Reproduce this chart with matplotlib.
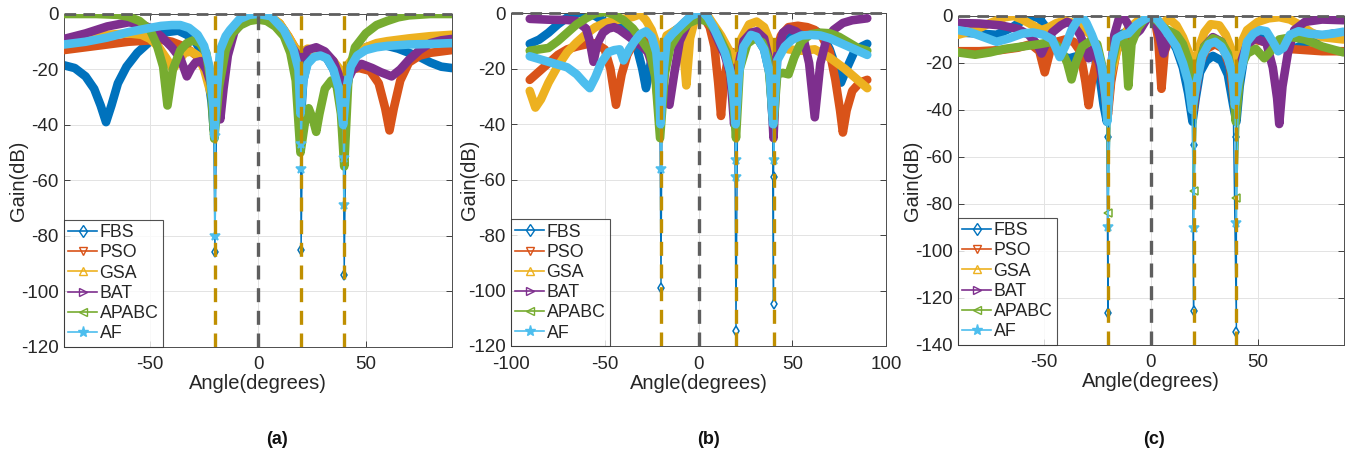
import matplotlib
matplotlib.use("Agg")
import matplotlib.pyplot as plt
from matplotlib.lines import Line2D

plt.rcParams['font.family'] = ['Liberation Sans', 'DejaVu Sans']
plt.rcParams['axes.unicode_minus'] = False

# ---------------- data ----------------
NAMES = ["FBS", "PSO", "GSA", "BAT", "APABC", "AF"]
COLORS = ["#0072BD", "#D95319", "#EDB120", "#7E2F8E", "#77AC30", "#4DBEEE"]
MARKERS = ["d", "v", "^", ">", "<", "*"]
NULL_ANG = [-20, 20, 40]
PANEL_LABELS = ["(a)", "(b)", "(c)"]

# Panel (a): (angle, gain dB)
A_FBS = [(-90,-18.5),(-85,-19.5),(-80,-22.5),(-76,-27),(-73,-33),(-70.5,-39),(-68,-33),(-65,-25),(-61,-19),(-56,-14),(-51,-10.5),(-47,-8),(-42,-6.5),(-37,-6),(-33,-7.5),(-29,-10),(-26,-14),(-23.5,-21),(-21.5,-32),(-20.5,-42),(-19,-26),(-17,-15),(-14,-8),(-10,-3.5),(-5,-0.8),(0,0),(5,-0.8),(10,-3.5),(14,-8.5),(17,-15),(18.8,-25),(19.7,-40),(21,-24),(23,-17),(26,-14.5),(29,-14.5),(32,-16),(35,-20),(37.5,-26),(39.5,-40),(41,-28),(43,-19),(46,-14),(50,-12),(55,-11),(60,-11.5),(65,-12.5),(70,-14),(75,-15.5),(80,-17.5),(85,-19),(90,-19.5)]
A_PSO = [(-90,-13),(-80,-12),(-70,-11),(-60,-10),(-50,-9.5),(-45,-9.3),(-40,-10),(-35,-11.5),(-31,-13.5),(-27,-16),(-24,-21),(-22,-26),(-20.5,-32),(-19,-24),(-17,-15),(-14,-8),(-10,-3.5),(-5,-0.8),(0,0),(5,-0.8),(10,-3.5),(14,-8),(17,-12),(20,-14.5),(23,-13),(27,-13.5),(31,-15),(35,-17.5),(38,-20.5),(40,-22),(43,-20),(47,-19.5),(52,-20.5),(56,-25),(59,-34),(61,-42),(63,-34),(66,-24),(70,-17.5),(75,-15),(80,-14),(90,-13)]
A_GSA = [(-90,-9.5),(-80,-8.5),(-70,-7.5),(-60,-7),(-54,-7.5),(-50,-9),(-46,-12),(-42.5,-16),(-39.5,-20),(-37,-17),(-34,-14),(-31,-13.5),(-28,-15),(-25,-20),(-22.5,-27),(-20.5,-32),(-19,-24),(-17,-15),(-14,-8),(-10,-3.5),(-5,-0.6),(0,0.3),(5,-0.6),(10,-3.3),(14,-8),(17,-12),(20,-14),(23,-12.5),(27,-13),(31,-14.5),(35,-17),(38,-20),(40,-22),(42,-18),(45,-15),(50,-12),(55,-10.5),(60,-9.8),(70,-8.8),(80,-8),(90,-7.5)]
A_BAT = [(-90,-9),(-80,-7),(-70,-4.5),(-60,-3),(-55,-3.5),(-50,-5),(-45,-8),(-40,-12),(-36,-16),(-33,-22.5),(-31,-19.5),(-29,-17.5),(-26.5,-17),(-24,-20),(-21.5,-26),(-19,-32),(-17.5,-38),(-16,-27),(-14,-15),(-11,-6.5),(-7,-2.5),(-3,-0.5),(0,0),(4,-0.7),(8,-3),(12,-7),(15,-11),(18,-14.5),(20,-16),(23,-13),(27,-12),(31,-13.5),(35,-17),(38,-23),(40,-36),(41.5,-24),(44,-20),(48,-18),(53,-19.5),(57,-21),(62,-22.5),(66,-20),(70,-16.5),(75,-13),(80,-10.5),(85,-9.5),(90,-9)]
A_APABC = [(-90,0),(-75,0),(-65,-0.3),(-60,-1),(-55,-2.5),(-50,-5.8),(-47,-11),(-44,-19),(-42,-33),(-39.5,-20),(-36,-13),(-33,-10.5),(-30,-9.5),(-27,-10.5),(-24,-14),(-22,-24),(-20.3,-45),(-18,-26),(-15,-13),(-12,-7),(-8,-4),(-4,-2.5),(0,-2),(4,-2.5),(8,-4.5),(12,-8),(15,-14),(17.5,-24),(19.7,-50),(22,-38),(23.5,-34),(25.5,-38),(27,-42.5),(28.5,-36),(31,-27),(34,-24),(36.5,-26),(38.5,-36),(40,-55),(42,-22),(45,-12),(50,-7),(55,-4),(60,-2.5),(65,-1.2),(70,-0.5),(80,0),(90,0)]
A_AF = [(-90,-11),(-80,-10),(-70,-8.5),(-60,-6.5),(-50,-5),(-45,-4.3),(-40,-4),(-36,-4),(-32,-5),(-28,-7.5),(-25,-11.5),(-22.5,-19),(-20.7,-34),(-20.2,-44),(-19.3,-30),(-17.6,-13),(-15,-8),(-13,-5.8),(-8.5,-1.8),(-4,-0.3),(0,0),(6,-0.8),(12,-5.8),(16.5,-13),(18.8,-20),(19.7,-36),(21,-24),(23,-18),(26,-15.5),(29,-15),(32,-16),(35,-20),(37.5,-27),(39.5,-40),(41,-27),(43,-19),(46,-15),(50,-13),(55,-12),(60,-11.5),(70,-11),(80,-10.8),(90,-10.5)]
A_DEEP = {"FBS": [[-86], [-85], [-94]], "AF": [[-44, -80], [-47, -56], [-52, -69]]}

# Panel (b)
B_FBS = [(-90,-11),(-85,-9.5),(-80,-7),(-75,-4),(-70,-1.5),(-65,0),(-60,0.5),(-55,-1),(-50,-3),(-45,-4.5),(-40,-5.5),(-36,-7),(-33,-12),(-30,-20),(-28,-27),(-26,-20),(-24,-12),(-22,-16),(-20.6,-35),(-19.4,-30),(-17.5,-12),(-14,-7),(-11,-5.5),(-8,-4),(-4,-1),(0,0.3),(2,0.5),(5,-1.5),(8,-5),(11,-9.5),(14,-14),(17,-21),(19.3,-35),(21,-22),(24,-12),(28,-8),(31,-8.5),(35,-13),(38,-22),(39.5,-38),(41,-18),(44,-10),(48,-7),(53,-6),(58,-5.5),(63,-6.5),(67,-9),(70,-13),(73,-19),(76,-25),(79,-20),(83,-14),(87,-12),(90,-11)]
B_PSO = [(-90,-24),(-85,-21),(-80,-18),(-75,-15),(-70,-13),(-65,-12),(-60,-11.2),(-55,-10.8),(-50,-13),(-47,-20),(-44,-33),(-41,-22),(-38,-15),(-34,-10),(-30,-8),(-26,-12),(-23,-22),(-20.5,-40),(-18,-20),(-15,-10),(-11,-6),(-7,-3),(-3,-1),(0,-0.5),(3,-1.5),(6,-5),(8.5,-12),(10.5,-25),(12,-37),(13.5,-25),(16,-15),(18,-14),(20,-20),(22,-14),(26,-9),(30,-8.5),(34,-10),(37,-15),(39,-22),(40,-30),(41,-15),(44,-8),(48,-5),(53,-4.5),(58,-5),(62,-6),(66,-8.5),(70,-14),(73,-24),(75.5,-35),(77,-43),(79,-35),(82,-28),(86,-25),(90,-24)]
B_GSA = [(-90,-28),(-87,-34),(-84,-31),(-80,-25),(-75,-19),(-70,-14),(-65,-10.5),(-60,-7.5),(-55,-5),(-50,-3.5),(-45,-2.6),(-40,-2),(-35,-1.3),(-31,-0.3),(-28,-2.5),(-25,-6),(-22.5,-11),(-20.5,-22),(-19,-13),(-17,-8),(-12,-6),(-8.5,-10),(-6.5,-26),(-4.5,-9),(-1.5,-1),(2,1),(5,-1),(8,-4),(12,-8),(16,-13),(20,-17),(23,-9),(27,-4),(31,-3),(35,-5),(38,-10),(40,-14),(43,-12),(48,-13),(55,-13.5),(62,-13),(70,-16),(78,-20),(84,-23.5),(90,-27)]
B_BAT = [(-90,-2),(-80,-2.3),(-70,-2.4),(-65,-2.8),(-60,-5.5),(-58,-10),(-56,-17.5),(-54,-11),(-51,-7),(-48,-5.5),(-45,-5),(-42,-6),(-38,-8),(-34,-10),(-30,-12),(-27,-14),(-24,-20),(-21,-26),(-18,-29),(-15.5,-33),(-13,-22),(-10,-10),(-6,-4),(-3,-1),(0,0.8),(3,0),(6,-3),(10,-9),(14,-15),(17,-22),(19,-40),(21,-20),(24,-10),(28,-7),(31,-6.5),(35,-9),(38,-18),(40,-45),(42,-15),(45,-7),(48,-5.5),(52,-6.5),(56,-9),(59,-18),(62,-37.5),(65,-18),(68,-10),(72,-6),(77,-3.5),(82,-2.5),(90,-1.8)]
B_APABC = [(-90,-13.5),(-85,-13),(-80,-12.5),(-75,-10),(-70,-7),(-65,-4),(-60,-1.8),(-55,0),(-50,0.5),(-45,-0.5),(-40,-2.5),(-35,-5.5),(-30,-10),(-26,-14),(-23,-23),(-20.5,-45),(-18,-22),(-15,-12),(-10,-6.5),(-5,-3.5),(0,-2),(5,-3),(10,-7),(15,-14),(18,-25),(20,-45),(22,-20),(26,-11),(30,-9),(34,-10.5),(37,-16),(40,-40),(42,-22),(45,-21.5),(48,-22),(51,-16),(55,-10),(60,-7.5),(65,-7),(70,-7.2),(75,-8.5),(80,-10.5),(85,-12.5),(90,-13.5)]
B_AF = [(-90,-15.5),(-85,-16.5),(-80,-17.5),(-75,-18.5),(-70,-19.5),(-65,-22),(-61,-25),(-58,-27),(-55,-23),(-52,-18),(-48,-14),(-45,-13.3),(-42,-13),(-40,-17),(-37,-13),(-34,-10),(-31,-7.5),(-28,-6.5),(-25,-8.5),(-22.5,-14),(-21,-25),(-20.3,-40),(-18.5,-20),(-17,-10),(-14,-7.5),(-11,-5.5),(-8,-3.5),(-4,-1),(0,0.2),(2,0.6),(5,-1.5),(8,-5),(11,-9.5),(14,-14),(17,-21),(19,-32),(19.8,-40),(21.5,-22),(24,-12),(28,-7.8),(31,-8.5),(35,-13),(38,-22),(39.8,-40),(42,-17),(46,-12),(50,-9.5),(55,-8),(60,-7.8),(65,-8),(70,-9),(75,-10.5),(80,-12),(85,-13.5),(90,-15)]
B_DEEP = {"FBS": [[-99], [-114.5], [-59, -105]], "AF": [[-56], [-53, -59], [-53]]}

# Panel (c)
C_FBS = [(-90,-7),(-80,-7.5),(-72,-8),(-65,-5),(-60,-2),(-56,0),(-52,-1),(-48,-6),(-45,-12),(-42,-17),(-38,-18),(-34,-17),(-30,-15),(-27,-15),(-24,-25),(-22,-38),(-20.5,-45),(-19,-30),(-17,-14),(-14,-8),(-10,-6),(-6,-3),(-3,-1),(0,0),(3,-1.5),(6,-5),(9,-9),(12,-14),(15,-22),(17.5,-33),(19.5,-45),(21,-35),(23,-24),(26,-19),(29,-17),(33,-19),(36,-25),(38.5,-38),(40,-45),(41.5,-30),(44,-15),(48,-9),(54,-9),(58,-12),(62,-13),(68,-13.5),(74,-11),(80,-8.5),(85,-7.5),(90,-7.5)]
C_PSO = [(-90,-15),(-80,-15),(-70,-14.5),(-62,-13.5),(-56,-12),(-52,-15),(-49.5,-24),(-47,-15),(-44,-11),(-40,-10),(-36,-11),(-33,-15),(-30.5,-28),(-29,-38),(-27.5,-28),(-25,-18),(-22.5,-22),(-21,-35),(-20,-42),(-18.5,-28),(-16,-15),(-13,-10),(-9,-7),(-5,-3),(-2,-0.5),(0,0),(2,-2),(3.5,-10),(5,-31),(6.5,-15),(9,-9),(12,-8),(15,-10),(17.5,-18),(19.5,-35),(21,-32),(23,-20),(26,-14),(30,-12),(34,-14),(37,-22),(39.5,-40),(41.5,-25),(44,-13),(48,-10),(53,-11),(58,-13),(64,-14),(72,-14.5),(80,-15),(90,-15)]
C_GSA = [(-90,-8),(-82,-6),(-75,-3),(-68,-0.5),(-64,0),(-60,-1.5),(-55,-4),(-51,-6),(-48,-5),(-44,-3),(-40,-2),(-36,-3),(-32,-5),(-28,-8),(-25,-14),(-22,-25),(-20.3,-40),(-18.5,-25),(-15,-12),(-11,-6),(-6,-2),(-2,0),(0,0.5),(2,-0.5),(4,-3),(5.5,-5),(7,-2),(9,-1.5),(12,-4),(15,-9),(18,-16),(20,-35),(22,-15),(25,-7),(28,-3.5),(32,-4),(35,-8),(38,-15),(40,-30),(42,-12),(45,-6),(50,-2.5),(55,-1),(60,-0.5),(65,-1.5),(70,-4),(75,-7),(80,-9),(90,-10)]
C_BAT = [(-90,-3),(-80,-3.2),(-70,-4),(-62,-5.5),(-57,-8),(-53,-12),(-51,-16),(-49,-12),(-46,-7),(-42,-4),(-39,-2.5),(-36,-4),(-33,-8),(-30.5,-14),(-29,-18),(-27,-14),(-24,-20),(-22,-30),(-20.5,-40),(-19,-28),(-17,-8),(-15,-1.5),(-13,0),(-11,-3),(-8,-8.5),(-5,-6),(-2,-1.5),(0,0),(2,-2),(4,-8),(6,-16),(8,-10),(11,-8),(14,-14),(16.5,-22),(18.5,-30),(20,-40),(22,-25),(25,-13),(29,-9),(33,-11),(36,-18),(38.5,-28),(40,-40),(42,-20),(45,-12),(49,-9.5),(54,-11.5),(57,-22),(59,-35),(60,-46),(61.5,-30),(64,-16),(67,-6),(72,-2.5),(80,-1.5),(90,-1.8)]
C_APABC = [(-90,-15.5),(-82,-16.5),(-75,-15.5),(-68,-14),(-60,-13),(-52,-12),(-46,-11),(-42,-14),(-39,-20),(-37,-27),(-35,-20),(-32,-13),(-28,-10.5),(-25,-12),(-22.5,-22),(-20.5,-40),(-18.5,-22),(-15.5,-10),(-13,-8),(-11.5,-15),(-10.5,-30),(-9,-12),(-6,-5),(-3,-1.5),(0,0),(3,-2),(6,-5),(9,-6.5),(12,-8),(15,-12),(18,-20),(19.7,-40),(22,-22),(25,-13),(29,-9.5),(33,-11),(36,-16),(38.5,-28),(39.7,-45),(42,-22),(45,-16),(49,-14),(53,-18),(56,-15),(60,-10),(66,-9),(72,-10),(80,-13),(90,-15.5)]
C_AF = [(-90,-6),(-84,-7),(-78,-9),(-72,-11),(-66,-9.5),(-60,-7.5),(-55,-7),(-50,-8),(-46,-10),(-42.5,-17.5),(-40,-13),(-37,-6),(-34,-1.5),(-32,-0.3),(-30,-3),(-27.5,-8),(-25,-14),(-23,-21),(-21,-35),(-20.3,-45),(-18.5,-20),(-16,-9.5),(-13,-8),(-10.5,-7.5),(-7,-4),(-4,-2),(0,0),(3,-1.5),(6,-5),(9,-9),(12,-13),(15,-20),(17.5,-28),(19.3,-40),(21.5,-28),(24,-17),(27,-12),(30,-11),(33,-13),(36,-18),(38,-24),(39.3,-38),(41,-28),(43,-20),(45,-11),(48,-7.5),(51,-6),(54,-6.5),(57,-11),(59.5,-15),(62,-13.5),(65,-8),(69,-6.5),(74,-7.5),(80,-8),(85,-7.5),(90,-6.7)]
C_DEEP = {"FBS": [[-51.5, -126.5], [-55, -125.5], [-51.5, -134.5]],
          "APABC": [[-84], [-74.5], [-77.5]],
          "AF": [[-90], [-90.5], [-88]]}

PANELS = [
    dict(data=[A_FBS, A_PSO, A_GSA, A_BAT, A_APABC, A_AF], deep=A_DEEP,
         xlim=(-90, 90), xticks=[-50, 0, 50], ylim=(-120, 0), yticks=list(range(-120, 1, 20)),
         rect=[64/1355, 1-346.7/453, 388/1355, 332.7/453], lab_x=277/1355, ylab_x=-0.118),
    dict(data=[B_FBS, B_PSO, B_GSA, B_BAT, B_APABC, B_AF], deep=B_DEEP,
         xlim=(-100, 100), xticks=[-100, -50, 0, 50, 100], ylim=(-120, 0), yticks=list(range(-120, 1, 20)),
         rect=[511/1355, 1-346/453, 375/1355, 332.7/453], lab_x=709/1355, ylab_x=-0.112),
    dict(data=[C_FBS, C_PSO, C_GSA, C_BAT, C_APABC, C_AF], deep=C_DEEP,
         xlim=(-90, 90), xticks=[-50, 0, 50], ylim=(-140, 0), yticks=list(range(-140, 1, 20)),
         rect=[958/1355, 1-344.7/453, 385.5/1355, 328.7/453], lab_x=1154/1355, ylab_x=-0.119),
]

GOLD = "#BF8F00"
GRAY = "#5E5E5E"
TXT = "#262626"

fig = plt.figure(figsize=(13.55, 4.53), dpi=100)

for k, P in enumerate(PANELS):
    ax = fig.add_axes(P["rect"])
    z = 2
    for name, col, mk, pts in zip(NAMES, COLORS, MARKERS, P["data"]):
        ang = [p[0] for p in pts]
        db = [p[1] for p in pts]
        if name in P["deep"]:
            extra = [(a, d) for a, ds in zip(NULL_ANG, P["deep"][name]) for d in ds]
            thin = sorted(pts + extra, key=lambda t: (t[0], t[1]))
            ax.plot([t[0] for t in thin], [t[1] for t in thin], color=col, lw=1.0, zorder=z)
            ax.plot([e[0] for e in extra], [e[1] for e in extra], ls='none', marker=mk,
                    ms=7.5 if mk == '*' else 5.5, mec=col, mfc=(col if mk == '*' else 'white'),
                    mew=1.1, zorder=z + 0.2)
        ax.plot(ang, db, color=col, lw=6.2, solid_joinstyle='round', solid_capstyle='round',
                zorder=z + 0.5)
        z += 1
    y0, y1 = P["ylim"]
    for a in NULL_ANG:
        ax.plot([a, a], [y0, 0], color=GOLD, lw=2.4, dashes=(4.2, 2.6), zorder=20)
    ax.plot([0, 0], [y0, 0], color=GRAY, lw=2.4, dashes=(4.2, 2.6), zorder=20)
    ax.plot(list(P["xlim"]), [0, 0], color=GRAY, lw=2.0, dashes=(4.2, 2.6), zorder=20, clip_on=False)

    ax.set_xlim(*P["xlim"])
    ax.set_ylim(y0, y1)
    ax.set_xticks(P["xticks"])
    ax.set_yticks(P["yticks"])
    ax.grid(True, color="#E3E3E3", lw=0.7, zorder=0)
    ax.set_axisbelow(True)
    ax.tick_params(direction='in', length=4, width=0.6, top=True, right=True,
                   labelsize=13.5, colors=TXT)
    ax.tick_params(axis='x', pad=7)
    ax.tick_params(axis='y', pad=4)
    for s in ax.spines.values():
        s.set_color("#4D4D4D")
        s.set_linewidth(0.7)
    ax.set_xlabel("Angle(degrees)", fontsize=14.5, color=TXT, va='center')
    ax.set_ylabel("Gain(dB)", fontsize=14.5, color=TXT, va='center')
    ax.xaxis.set_label_coords(0.5, -0.112)
    ax.yaxis.set_label_coords(P["ylab_x"], 0.5)

    handles = [Line2D([0], [0], color=c, lw=1.2, marker=m, ms=6 if m != '*' else 8,
                      mfc=('none' if m != '*' else c), mec=c, mew=1.0)
               for c, m in zip(COLORS, MARKERS)]
    leg = ax.legend(handles, NAMES, loc='lower left', fontsize=12.8, frameon=True, fancybox=False,
                    borderaxespad=0.0, borderpad=0.25, labelspacing=0.18, handlelength=1.6,
                    handletextpad=0.15)
    leg.get_frame().set_edgecolor("#262626")
    leg.get_frame().set_linewidth(0.8)
    leg.set_zorder(30)
    for t in leg.get_texts():
        t.set_color(TXT)

    fig.text(P["lab_x"], 1 - 439/453, PANEL_LABELS[k], ha='center', va='center',
             fontsize=13, fontweight='bold', color="#111111")

fig.savefig("out.png", dpi=100)
